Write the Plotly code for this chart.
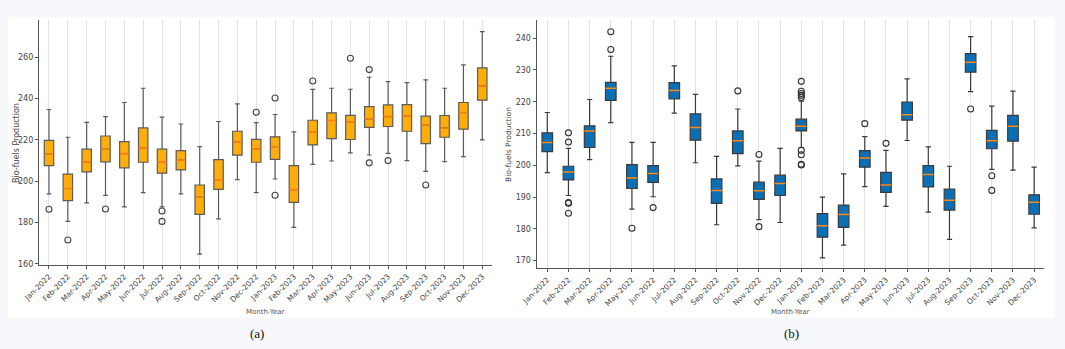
import plotly.graph_objects as go

months = ["Jan-2022", "Feb-2022", "Mar-2022", "Apr-2022", "May-2022", "Jun-2022",
          "Jul-2022", "Aug-2022", "Sep-2022", "Oct-2022", "Nov-2022", "Dec-2022",
          "Jan-2023", "Feb-2023", "Mar-2023", "Apr-2023", "May-2023", "Jun-2023",
          "Jul-2023", "Aug-2023", "Sep-2023", "Oct-2023", "Nov-2023", "Dec-2023"]

# ---- panel (a) ----
a_low = [193.9, 180.6, 189.5, 193.2, 187.6, 194.5, 187.6, 193.9, 164.8, 181.8, 200.8, 194.5,
         201.1, 177.7, 208.2, 209.8, 213.7, 212.7, 213.5, 210.0, 204.8, 209.5, 211.9, 220.0]
a_q1 = [207.6, 190.6, 204.5, 209.4, 206.5, 209.2, 203.9, 205.5, 184.0, 196.1, 212.6, 209.2,
        210.6, 189.8, 217.6, 220.6, 220.2, 226.1, 226.5, 224.2, 218.2, 221.3, 225.2, 239.2]
a_med = [213.1, 196.5, 209.4, 215.6, 213.4, 216.1, 209.2, 210.2, 192.4, 200.5, 219.0, 215.6,
         216.8, 196.0, 223.7, 229.4, 228.5, 230.2, 231.3, 231.5, 227.3, 225.8, 233.2, 246.1]
a_q3 = [219.8, 203.5, 215.5, 221.9, 219.2, 225.8, 215.5, 214.8, 198.2, 210.5, 224.2, 220.3,
        221.5, 207.6, 229.5, 233.1, 231.9, 236.1, 236.9, 237.1, 231.5, 231.8, 238.1, 254.8]
a_high = [234.7, 221.3, 228.5, 231.3, 238.1, 245.0, 231.0, 227.7, 216.8, 228.9, 237.4, 228.4,
          232.3, 223.9, 244.4, 245.0, 244.5, 250.3, 248.2, 247.7, 249.0, 245.0, 256.3, 272.4]
a_out_month = ["Jan-2022", "Feb-2022", "Apr-2022", "Jul-2022", "Jul-2022", "Dec-2022",
               "Jan-2023", "Jan-2023", "Mar-2023", "May-2023", "Jun-2023", "Jun-2023",
               "Jul-2023", "Sep-2023"]
a_out_val = [186.5, 171.6, 186.6, 185.6, 180.6, 233.4,
             240.3, 193.2, 248.5, 259.5, 254.0, 208.9,
             210.0, 198.2]

# ---- panel (b) ----
b_low = [197.7, 190.5, 201.8, 213.4, 186.2, 190.1, 216.4, 200.8, 181.3, 199.8, 182.9, 182.0,
         205.6, 170.9, 174.9, 193.3, 187.1, 207.8, 185.3, 176.7, 223.2, 198.7, 198.5, 180.3]
b_q1 = [204.3, 195.4, 205.6, 220.4, 192.7, 194.6, 220.9, 207.9, 188.0, 203.7, 189.3, 190.5,
        210.8, 177.4, 180.5, 199.4, 191.5, 214.2, 193.2, 185.9, 229.3, 205.2, 207.6, 184.6]
b_med = [207.2, 197.9, 210.8, 224.2, 196.0, 197.4, 223.5, 211.9, 192.1, 207.7, 192.0, 194.3,
         212.3, 181.0, 184.5, 202.3, 193.8, 215.9, 197.1, 189.0, 232.4, 207.7, 212.3, 188.4]
b_q3 = [210.2, 199.7, 212.4, 226.1, 200.2, 199.9, 226.0, 216.2, 195.7, 210.8, 194.7, 196.9,
        214.5, 184.8, 187.5, 204.6, 197.8, 219.9, 199.9, 192.5, 235.1, 211.0, 215.7, 190.7]
b_high = [216.6, 205.3, 220.7, 234.3, 207.2, 207.2, 231.3, 222.3, 202.8, 217.7, 201.3, 205.3,
          220.2, 190.0, 197.3, 209.0, 204.7, 227.2, 205.8, 199.7, 240.5, 218.6, 223.3, 199.4]
b_out_month = ["Feb-2022", "Feb-2022", "Feb-2022", "Feb-2022", "Feb-2022",
               "Apr-2022", "Apr-2022", "May-2022", "Jun-2022", "Oct-2022",
               "Nov-2022", "Nov-2022",
               "Jan-2023", "Jan-2023", "Jan-2023", "Jan-2023", "Jan-2023",
               "Jan-2023", "Jan-2023", "Jan-2023", "Jan-2023",
               "Apr-2023", "May-2023", "Sep-2023", "Oct-2023", "Oct-2023"]
b_out_val = [210.2, 207.3, 188.3, 188.1, 184.9,
             242.0, 236.4, 180.2, 186.7, 223.4,
             203.4, 180.7,
             226.4, 223.3, 222.6, 222.0, 221.3,
             204.7, 203.3, 200.3, 200.1,
             213.1, 206.9, 217.7, 196.7, 192.1]

BOX_W = 0.5
idx = list(range(len(months)))
pos = {m: i for i, m in enumerate(months)}


def median_segments(meds):
    xs, ys = [], []
    for i, m in enumerate(meds):
        xs += [i - BOX_W / 2, i + BOX_W / 2, None]
        ys += [m, m, None]
    return xs, ys


fig = go.Figure()

# panel a
fig.add_trace(go.Box(x=idx, q1=a_q1, median=a_med, q3=a_q3, lowerfence=a_low, upperfence=a_high,
                     width=BOX_W, whiskerwidth=0.5, fillcolor="#ffad0a",
                     line=dict(color="#5a5a5a", width=1.2), boxpoints=False,
                     xaxis="x", yaxis="y", showlegend=False))
mx, my = median_segments(a_med)
fig.add_trace(go.Scatter(x=mx, y=my, mode="lines", line=dict(color="#ff7f0e", width=1.5),
                         xaxis="x", yaxis="y", showlegend=False, hoverinfo="skip"))
fig.add_trace(go.Scatter(x=[pos[m] for m in a_out_month], y=a_out_val, mode="markers",
                         marker=dict(symbol="circle-open", size=6, color="#444",
                                     line=dict(width=1.1)),
                         xaxis="x", yaxis="y", showlegend=False))

# panel b
fig.add_trace(go.Box(x=idx, q1=b_q1, median=b_med, q3=b_q3, lowerfence=b_low, upperfence=b_high,
                     width=BOX_W, whiskerwidth=0.5, fillcolor="#0a6fb5",
                     line=dict(color="#3a3a3a", width=1.2), boxpoints=False,
                     xaxis="x2", yaxis="y2", showlegend=False))
mx, my = median_segments(b_med)
fig.add_trace(go.Scatter(x=mx, y=my, mode="lines", line=dict(color="#ff8c1a", width=1.5),
                         xaxis="x2", yaxis="y2", showlegend=False, hoverinfo="skip"))
fig.add_trace(go.Scatter(x=[pos[m] for m in b_out_month], y=b_out_val, mode="markers",
                         marker=dict(symbol="circle-open", size=6, color="#333",
                                     line=dict(width=1.1)),
                         xaxis="x2", yaxis="y2", showlegend=False))

W, H = 1065, 349


def px_x(v):
    return v / W


def px_y(v):
    return 1 - v / H


tickfont = dict(family="DejaVu Sans", size=7.5, color="#444")
xcommon = dict(tickmode="array", tickvals=idx, ticktext=months, tickangle=-45,
               showgrid=True, gridcolor="#e3e3e3", gridwidth=1,
               showline=True, linecolor="#555", linewidth=1.3,
               ticks="outside", ticklen=3, tickcolor="#555", tickfont=tickfont,
               zeroline=False, fixedrange=True, automargin=False)
ycommon = dict(showgrid=False, zeroline=False, showline=True, linecolor="#555", linewidth=1.3,
               ticks="outside", ticklen=3, tickcolor="#555", automargin=False,
               tickfont=dict(family="DejaVu Sans", size=8, color="#444"))


def ann(text, x, y, size, angle=0, family="DejaVu Sans", color="#444"):
    return dict(text=text, x=px_x(x), y=px_y(y), xref="paper", yref="paper",
                xanchor="center", yanchor="middle", textangle=angle, showarrow=False,
                font=dict(family=family, size=size, color=color))


fig.update_layout(
    width=W, height=H,
    autosize=False,
    margin=dict(l=0, r=0, t=0, b=0, pad=0),
    paper_bgcolor="#f6f8fb",
    plot_bgcolor="white",
    xaxis=dict(domain=[px_x(39), px_x(491.7)], range=[-0.53, 23.5], anchor="y", **xcommon),
    yaxis=dict(domain=[px_y(265), px_y(20)], range=[159.5, 278], anchor="x",
               tickvals=[160, 180, 200, 220, 240, 260], **ycommon),
    xaxis2=dict(domain=[px_x(536.7), px_x(1044.3)], range=[-0.5, 23.48], anchor="y2", **xcommon),
    yaxis2=dict(domain=[px_y(268.3), px_y(20)], range=[167.6, 245.7], anchor="x2",
                tickvals=[170, 180, 190, 200, 210, 220, 230, 240], **ycommon),
    shapes=[dict(type="rect", xref="paper", yref="paper", layer="below",
                 x0=px_x(8), x1=px_x(1055), y0=px_y(318), y1=px_y(17),
                 fillcolor="white", line=dict(width=0))],
    annotations=[
        ann("Bio-fuels Production", 16, 143, 8, angle=-90),
        ann("Bio-fuels Production", 508, 145, 7.5, angle=-90),
        ann("Month-Year", 265, 312, 7, color="#555"),
        ann("Month-Year", 790, 312, 7, color="#555"),
        ann("(a)", 257, 333, 13, family="Liberation Serif", color="#111"),
        ann("(b)", 791, 333, 13, family="Liberation Serif", color="#111"),
    ],
)

fig.write_html("out.html",
               config={"displayModeBar": False},
               post_script="document.body.style.margin='0';document.body.style.padding='0';"
                           "document.body.style.overflow='hidden';")
